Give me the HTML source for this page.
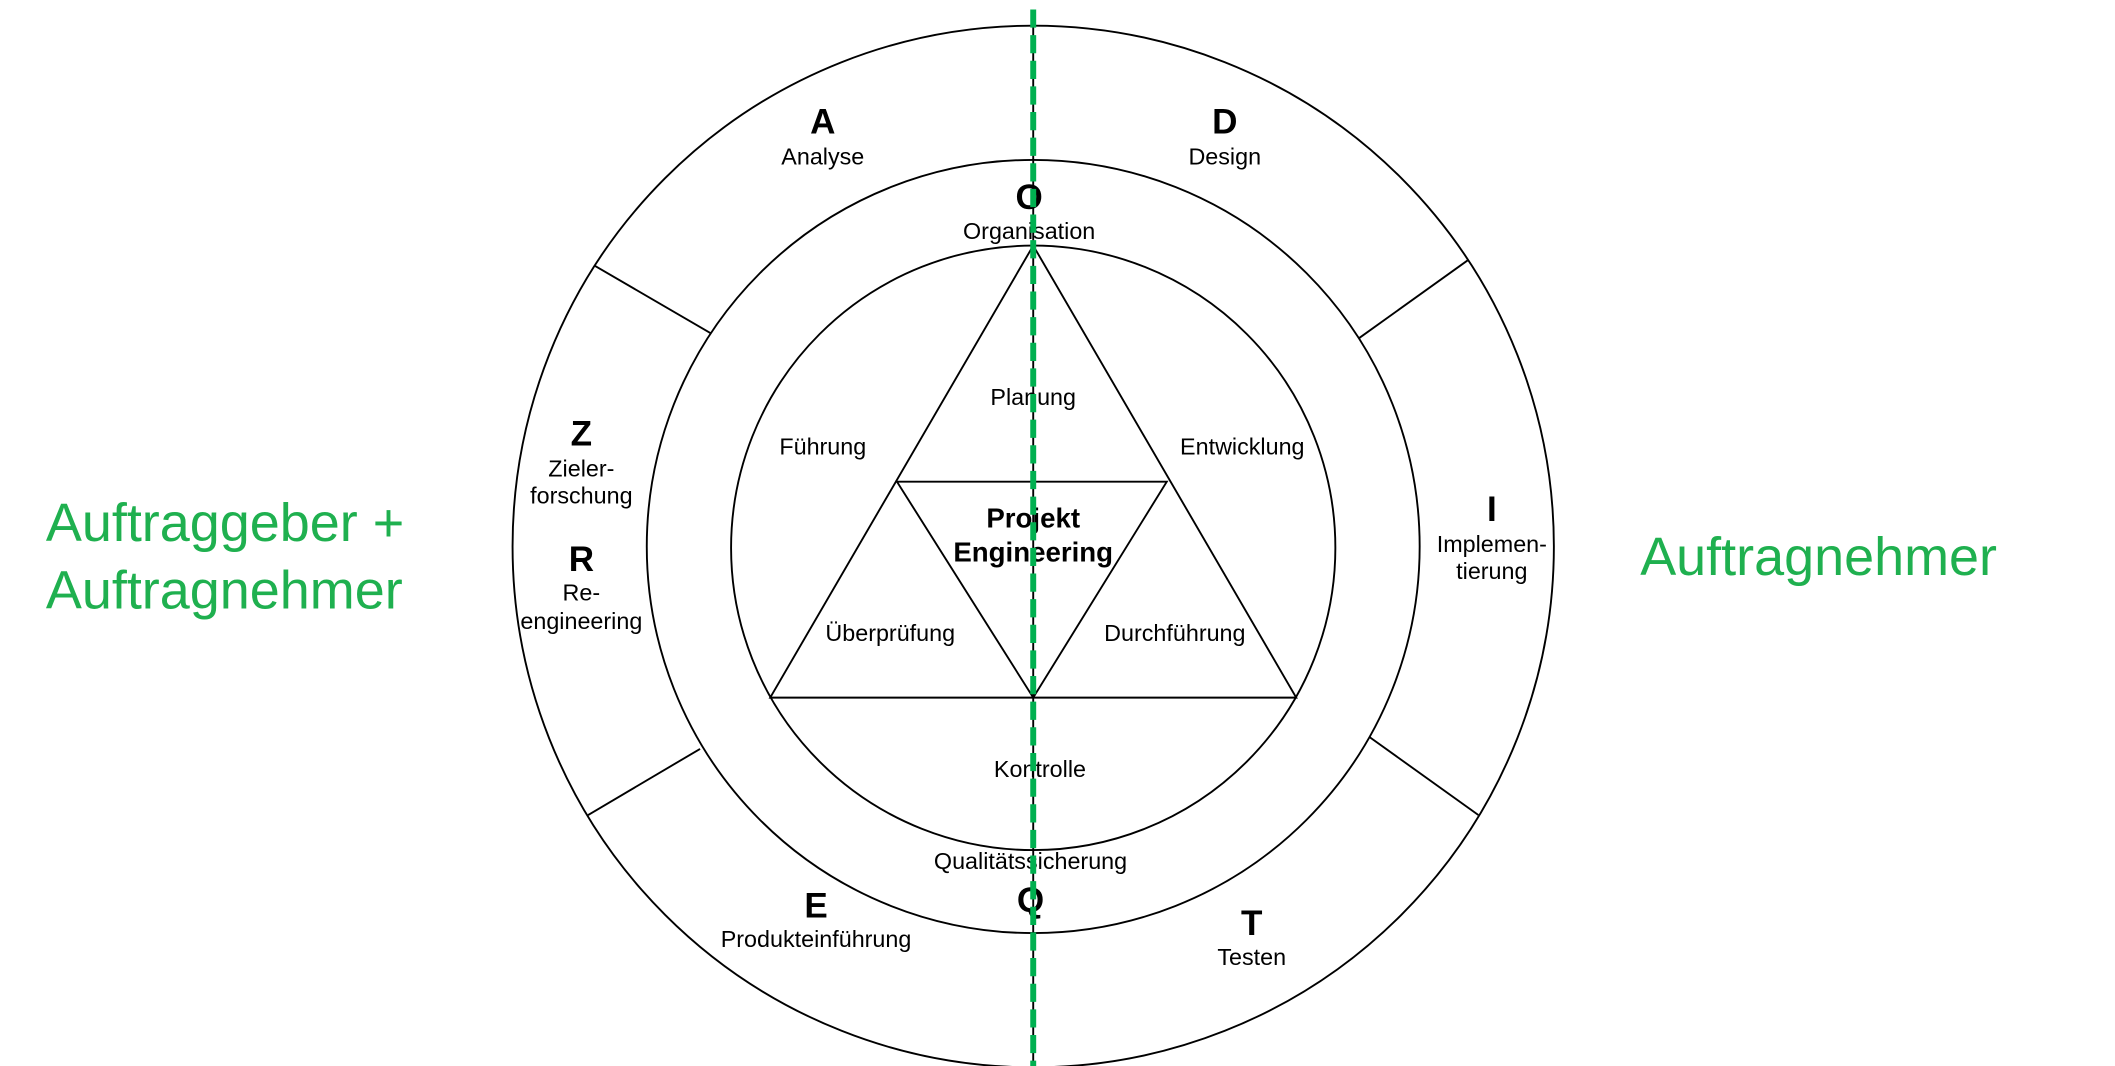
<!DOCTYPE html>
<html><head><meta charset="utf-8"><style>
html,body{margin:0;padding:0;background:#fff;width:2115px;height:1066px;overflow:hidden}
svg{display:block}
text{font-family:"Liberation Sans",Arial,sans-serif;fill:#000}
.b{font-weight:bold;font-size:26px}
.s{font-size:17.3px}
.g{fill:#1fb04f;font-size:40px}
</style></head><body>
<svg width="2115" height="1066" viewBox="0 0 1568 790" preserveAspectRatio="none">
<g fill="none" stroke="#000" stroke-width="1.4">
<circle cx="766" cy="405" r="386"/>
<circle cx="766" cy="405" r="286.5"/>
<circle cx="766" cy="406" r="224"/>
<polygon points="766,182 571,517 961,517"/>
<polygon points="665,357 865,357 766,517"/>
<line x1="441" y1="197" x2="527" y2="247"/>
<line x1="1088" y1="193" x2="1007" y2="251"/>
<line x1="1015" y1="546" x2="1096" y2="604"/>
<line x1="436" y1="604" x2="519" y2="555"/>
<line x1="766" y1="19" x2="766" y2="790"/>
</g>
<g text-anchor="middle">
<text class="b" x="610" y="99">A</text><text class="s" x="610" y="122">Analyse</text>
<text class="b" x="908" y="99">D</text><text class="s" x="908" y="122">Design</text>
<text class="b" x="763" y="155">O</text><text class="s" x="763" y="177">Organisation</text>
<text class="b" x="431" y="330">Z</text><text class="s" x="431" y="353">Zieler-</text><text class="s" x="431" y="373">forschung</text>
<text class="b" x="431" y="423">R</text><text class="s" x="431" y="445">Re-</text><text class="s" x="431" y="466">engineering</text>
<text class="b" x="1106" y="386">I</text><text class="s" x="1106" y="409">Implemen-</text><text class="s" x="1106" y="429">tierung</text>
<text class="s" x="766" y="300">Planung</text>
<text class="s" x="610" y="337">Führung</text>
<text class="s" x="921" y="337">Entwicklung</text>
<text x="766" y="391" style="font-weight:bold;font-size:20.5px">Projekt</text>
<text x="766" y="416" style="font-weight:bold;font-size:20.5px">Engineering</text>
<text class="s" x="660" y="475">Überprüfung</text>
<text class="s" x="871" y="475">Durchführung</text>
<text class="s" x="771" y="576">Kontrolle</text>
<text class="s" x="764" y="644">Qualitätssicherung</text>
<text class="b" x="764" y="676">Q</text>
<text class="b" x="605" y="680">E</text><text class="s" x="605" y="702">Produkteinführung</text>
<text class="b" x="928" y="693">T</text><text class="s" x="928" y="715">Testen</text>
</g>
<line x1="766" y1="7" x2="766" y2="790" stroke="#00b050" stroke-width="4.4" stroke-dasharray="13.5,5.5"/>
<text class="g" x="34" y="401">Auftraggeber +</text>
<text class="g" x="34" y="451">Auftragnehmer</text>
<text class="g" x="1216" y="426">Auftragnehmer</text>
</svg>
</body></html>
